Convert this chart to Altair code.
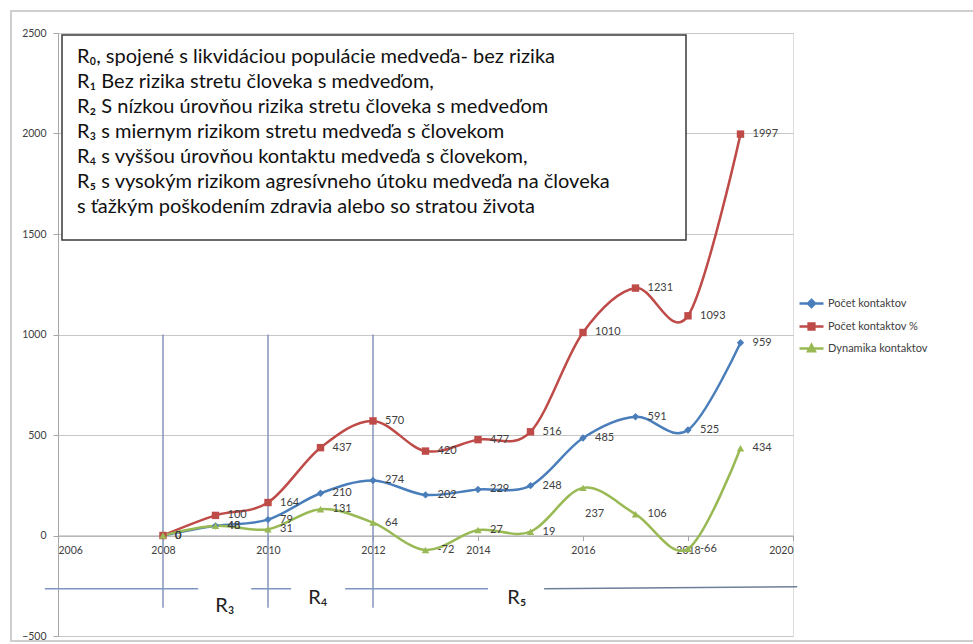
import altair as alt
import pandas as pd

# ---- data ----
years = [2008, 2009, 2010, 2011, 2012, 2013, 2014, 2015, 2016, 2017, 2018, 2019]
series_names = ["Počet kontaktov", "Počet kontaktov %", "Dynamika kontaktov"]
pocet = [0, 48, 79, 210, 274, 202, 229, 248, 485, 591, 525, 959]
pocet_pct = [0, 100, 164, 437, 570, 420, 477, 516, 1010, 1231, 1093, 1997]
dynamika = [0, 48, 31, 131, 64, -72, 27, 19, 237, 106, -66, 434]
colors = ["#4A7EBB", "#BE4B48", "#98B954"]
shapes = ["diamond", "square", "triangle-up"]
x_ticks = [2006, 2008, 2010, 2012, 2014, 2016, 2018, 2020]
y_ticks = [-500, 0, 500, 1000, 1500, 2000, 2500]

box_lines = [
    "R₀, spojené s likvidáciou populácie medveďa- bez rizika",
    "R₁ Bez rizika stretu človeka s medveďom,",
    "R₂ S nízkou úrovňou rizika stretu človeka s medveďom",
    "R₃ s miernym rizikom stretu medveďa s človekom",
    "R₄ s vyššou úrovňou kontaktu medveďa s človekom,",
    "R₅ s vysokým rizikom agresívneho útoku medveďa na človeka",
    "s ťažkým poškodením zdravia alebo so stratou života",
]

# annotation geometry (data units)
vline_years = [2008, 2010, 2012]
vline_top = 1000
vline_bottom = -360
hseg_x1 = [2005.75, 2009.68, 2011.47, 2015.26]
hseg_x2 = [2008.67, 2010.44, 2014.19, 2020.08]
hseg_y1 = [-265, -265, -265, -265]
hseg_y2 = [-265, -265, -265, -255]
hseg_col = ["#7F96C0", "#7F96C0", "#7F96C0", "#6E7F99"]
r_labels = ["R₃", "R₄", "R₅"]
r_x = [2009.18, 2010.95, 2014.74]
r_y = [-353, -313, -313]

rows = []
for name, vals in zip(series_names, [pocet, pocet_pct, dynamika]):
    for yr, v in zip(years, vals):
        rows.append({"rok": yr, "hodnota": v, "seria": name})
df = pd.DataFrame(rows)

FONT = "Lato"
TXT = "#404040"

xs = alt.Scale(domain=[2006, 2020], nice=False, zero=False)
ys = alt.Scale(domain=[-500, 2500], nice=False, zero=False)

X = alt.X("rok:Q", scale=xs, axis=alt.Axis(
    values=x_ticks, format="d", title=None, grid=False, offset=-100.5,
    domain=True, domainColor="#A6A6A6", ticks=True, tickColor="#A6A6A6", tickSize=5,
    labelFont=FONT, labelFontSize=10.5, labelColor=TXT, labelPadding=5))
Y = alt.Y("hodnota:Q", scale=ys, axis=alt.Axis(
    values=y_ticks, format="d", title=None, grid=True, gridColor="#C6C6C6", gridWidth=1,
    domain=True, domainColor="#A6A6A6", ticks=True, tickColor="#A6A6A6", tickSize=5,
    labelFont=FONT, labelFontSize=10.5, labelColor=TXT, labelPadding=7))

frame = alt.Chart(pd.DataFrame({"a": [0]})).mark_rect(
    fill=None, stroke="#CFCFCF", strokeWidth=2
).encode(x=alt.value(-47), x2=alt.value(925), y=alt.value(-22), y2=alt.value(608))

lines = []
points = []
for name, col, shp in zip(series_names, colors, shapes):
    lines.append(
        alt.Chart(df).transform_filter(alt.datum.seria == name).mark_line(
            interpolate="cardinal", strokeWidth=2.5, color=col
        ).encode(x=X, y=Y))
    points.append(
        alt.Chart(df).transform_filter(alt.datum.seria == name).mark_point(
            shape=shp, filled=True, size=55, color=col, opacity=1
        ).encode(x="rok:Q", y="hodnota:Q"))

labels = alt.Chart(df).transform_filter(
    "!(datum.seria == 'Dynamika kontaktov' && datum.rok == 2016)"
).transform_calculate(lbl="'' + datum.hodnota").mark_text(
    align="left", baseline="middle", dx=12, font=FONT, fontSize=11, color=TXT
).encode(x="rok:Q", y="hodnota:Q", text="lbl:N")
label_special = alt.Chart(df).transform_filter(
    "datum.seria == 'Dynamika kontaktov' && datum.rok == 2016"
).transform_calculate(lbl="'' + datum.hodnota").mark_text(
    align="left", baseline="middle", dx=2, dy=26, font=FONT, fontSize=11, color=TXT
).encode(x="rok:Q", y="hodnota:Q", text="lbl:N")

# legend-only layer
leg_paths = [
    "M-1,0L1,0M0,-0.3L0.3,0L0,0.3L-0.3,0Z",
    "M-1,0L1,0M-0.24,-0.24L0.24,-0.24L0.24,0.24L-0.24,0.24Z",
    "M-1,0L1,0M0,-0.3L0.28,0.22L-0.28,0.22Z",
]
leg = alt.Legend(orient="none", legendX=740, legendY=257, title=None,
                 symbolSize=576, symbolStrokeWidth=2.5, rowPadding=0,
                 labelFont=FONT, labelFontSize=11, labelColor=TXT, labelOffset=3)
legend_layer = alt.Chart(df).transform_filter("datum.rok < 0").mark_point(
    filled=True, strokeWidth=2.5, opacity=1
).encode(
    x="rok:Q", y="hodnota:Q",
    stroke=alt.Stroke("seria:N", scale=alt.Scale(domain=series_names, range=colors), legend=leg),
    fill=alt.Fill("seria:N", scale=alt.Scale(domain=series_names, range=colors), legend=leg),
    shape=alt.Shape("seria:N", scale=alt.Scale(domain=series_names, range=leg_paths), legend=leg),
)

# annotations
vdf = pd.DataFrame({"rok": vline_years, "top": [vline_top] * 3, "bot": [vline_bottom] * 3})
vlines = alt.Chart(vdf).mark_rule(color="#8594BC", strokeWidth=1.5).encode(
    x="rok:Q", y="top:Q", y2="bot:Q")

hdf = pd.DataFrame({"x1": hseg_x1, "x2": hseg_x2, "y1": hseg_y1, "y2": hseg_y2, "c": hseg_col})
hsegs = alt.Chart(hdf).mark_rule(strokeWidth=1.5).encode(
    x="x1:Q", x2="x2:Q", y="y1:Q", y2="y2:Q", color=alt.Color("c:N", scale=None))

rdf = pd.DataFrame({"t": r_labels, "x": r_x, "y": r_y})
rtext = alt.Chart(rdf).mark_text(font=FONT, fontSize=20, color="#222222").encode(
    x="x:Q", y="y:Q", text="t:N")

box = alt.Chart(pd.DataFrame({"a": [0]})).mark_rect(
    fill="white", stroke="#3A3A3A", strokeWidth=1.5
).encode(x=alt.value(4), x2=alt.value(628), y=alt.value(2), y2=alt.value(207))

box_text = alt.Chart(pd.DataFrame({"t": ["\n".join(box_lines)]})).mark_text(
    align="left", baseline="top", lineBreak="\n", lineHeight=25,
    font=FONT, fontSize=20, color="#111111"
).encode(x=alt.value(19), y=alt.value(14), text="t:N")

chart = alt.layer(
    frame, vlines, hsegs, rtext, *lines, *points, labels, label_special,
    legend_layer, box, box_text
).properties(
    width=735, height=603,
    padding={"left": 58, "top": 33, "right": 180, "bottom": 8},
    autosize="none",
).configure_view(stroke=None).configure(background="white")

chart.save("out.html", embed_options={"renderer": "svg", "actions": False})
